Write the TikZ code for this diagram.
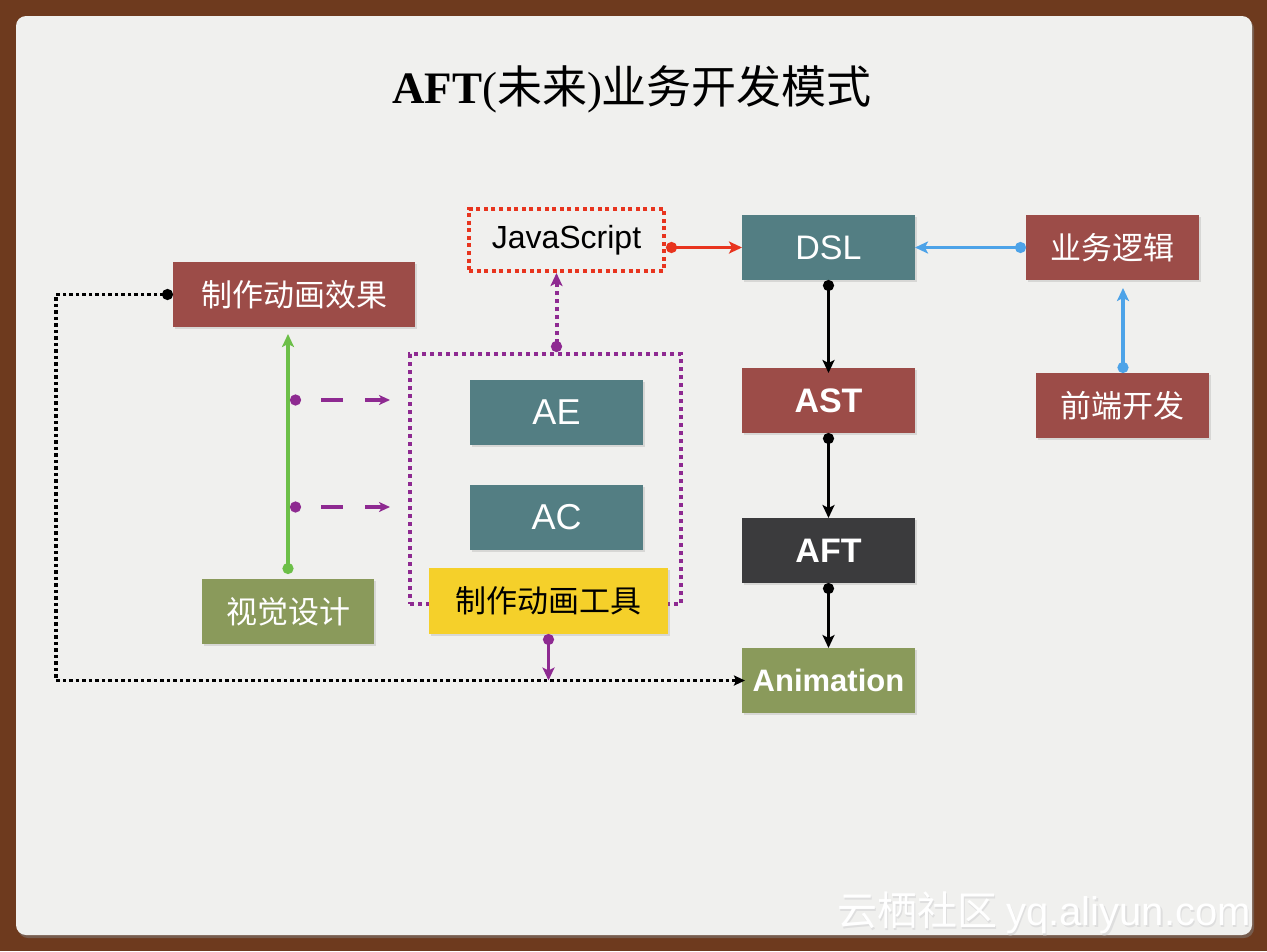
\documentclass[tikz,border=0pt]{standalone}
\usepackage{fontspec}
\setmainfont{Liberation Sans}
\newfontfamily\cjk{Noto Sans CJK SC}
\newfontfamily\titleserif{Liberation Serif}
\usetikzlibrary{arrows.meta,shadows,calc}
\definecolor{brownbg}{HTML}{6E3A1E}
\definecolor{paper}{HTML}{F0F0EE}
\definecolor{tealbox}{HTML}{537E83}
\definecolor{redbox}{HTML}{9C4C48}
\definecolor{darkbox}{HTML}{3B3B3D}
\definecolor{olivebox}{HTML}{8A9A5B}
\definecolor{yellowbox}{HTML}{F5D02A}
\definecolor{jsred}{HTML}{E8341E}
\definecolor{purp}{HTML}{8E2A91}
\definecolor{greenln}{HTML}{6CBF48}
\definecolor{blueln}{HTML}{4DA3E8}
\begin{document}
\begin{tikzpicture}[x=1pt,y=-1pt,
  box/.style={minimum width=173pt, minimum height=65pt, inner sep=0pt, outer sep=0pt, text=white,
    font=\fontsize{34}{40}\selectfont,
    drop shadow={opacity=0.22, shadow xshift=1.5pt, shadow yshift=-1.5pt}},
  boldbox/.style={box, font=\bfseries\fontsize{34}{40}\selectfont},
  cjkbox/.style={box, font=\cjk\fontsize{31}{36}\selectfont},
  dotbox/.style={line width=4pt, dash pattern=on 4pt off 4pt, inner sep=0pt, outer sep=2pt},
  conn/.style={line width=3.5pt, {Circle[length=11pt]}-{Stealth[length=13pt,width=12pt,inset=3pt]}}
]
\useasboundingbox (0,0) rectangle (1267,951);
\fill[brownbg] (0,0) rectangle (1267,951);
\fill[paper, rounded corners=10pt, drop shadow={opacity=0.5, shadow xshift=2pt, shadow yshift=-3pt}] (16,16) rectangle (1252,935);

% title
\node (title) at (632,89) {\fontsize{45}{50}\selectfont\titleserif\bfseries AFT\mdseries(\cjk 未来\titleserif)\cjk 业务开发模式};

% main column
\node[box, fill=tealbox] (dsl) at (828.5,247.5) {DSL};
\node[boldbox, fill=redbox] (ast) at (828.5,400.5) {AST};
\node[boldbox, fill=darkbox] (aft) at (828.5,550.5) {AFT};
\node[box, fill=olivebox, font=\bfseries\fontsize{31}{36}\selectfont] (anim) at (828.5,680.5) {Animation};

% right
\node[cjkbox, fill=redbox] (logic) at (1112.5,247.5) {业务逻辑};
\node[cjkbox, fill=redbox] (fe) at (1122.5,405.5) {前端开发};

% left
\node[cjkbox, fill=redbox, minimum width=242pt] (effect) at (294,294.5) {制作动画效果};
\node[cjkbox, fill=olivebox, minimum width=172pt] (visual) at (288,611.5) {视觉设计};

% tool group
\node[dotbox, draw=purp, minimum width=271pt, minimum height=250pt] (group) at (545.5,479) {};
\node[box, fill=tealbox, font=\fontsize{36}{42}\selectfont] (ae) at (556.5,412.5) {AE};
\node[box, fill=tealbox, font=\fontsize{36}{42}\selectfont] (ac) at (556.5,517.5) {AC};
\node[cjkbox, fill=yellowbox, text=black, minimum width=239pt, minimum height=66pt] (tool) at (548.5,601) {制作动画工具};

% javascript
\node[dotbox, draw=jsred, dash pattern=on 4pt off 3.6pt, minimum width=195pt, minimum height=62pt,
  font=\fontsize{32}{38}\selectfont, text=black] (js) at (566.5,240) {JavaScript};

% connectors
\draw[conn, jsred] (js.east |- dsl.west) -- (dsl.west);
\draw[conn, blueln] (logic.west) -- (dsl.east);
\draw[conn, blueln, shorten >=8pt] (fe.north -| 1123,0) -- (logic.south -| 1123,0);
\draw[conn, black] (dsl.south) -- ([yshift=-5pt]ast.north);
\draw[conn, black] (ast.south) -- (aft.north);
\draw[conn, black] (aft.south) -- (anim.north);

\draw[conn, purp, line width=4pt, dash pattern=on 4pt off 4pt] (ae.north |- group.north) -- (ae.north |- js.south);
\draw[conn, greenln, shorten >=7pt] ([yshift=5pt]visual.north) -- (visual.north |- effect.south);

\coordinate (d1s) at (290,400);
\coordinate (d1e) at (390,400);
\coordinate (d2s) at (290,507);
\coordinate (d2e) at (390,507);
\draw[purp, line width=4pt, dash pattern=on 22pt off 22pt, dash phase=22pt,
  {Circle[length=11pt]}-{Stealth[length=11pt,width=10pt,inset=3pt]}] (d1s) -- (d1e);
\draw[purp, line width=4pt, dash pattern=on 22pt off 22pt, dash phase=22pt,
  {Circle[length=11pt]}-{Stealth[length=11pt,width=10pt,inset=3pt]}] (d2s) -- (d2e);

\draw[conn, purp] (tool.south) -- (tool.south |- anim.west);

\coordinate (corner) at (56,680.5);
\draw[black, line width=3.5pt, dash pattern=on 3.5pt off 3pt,
  {Circle[length=11pt]}-{Stealth[length=11pt,width=10pt,inset=2pt]}] (effect.west) -| (corner) -- ([xshift=3pt]anim.west);

% watermark
\node[text=black!13, font=\fontsize{40}{46}\selectfont] (wms) at (1045.5,914.5) {\cjk 云栖社区\ \rmfamily yq.aliyun.com};
\node[text=white, font=\fontsize{40}{46}\selectfont] (wm) at (1044,913) {\cjk 云栖社区\ \rmfamily yq.aliyun.com};
\end{tikzpicture}
\end{document}
